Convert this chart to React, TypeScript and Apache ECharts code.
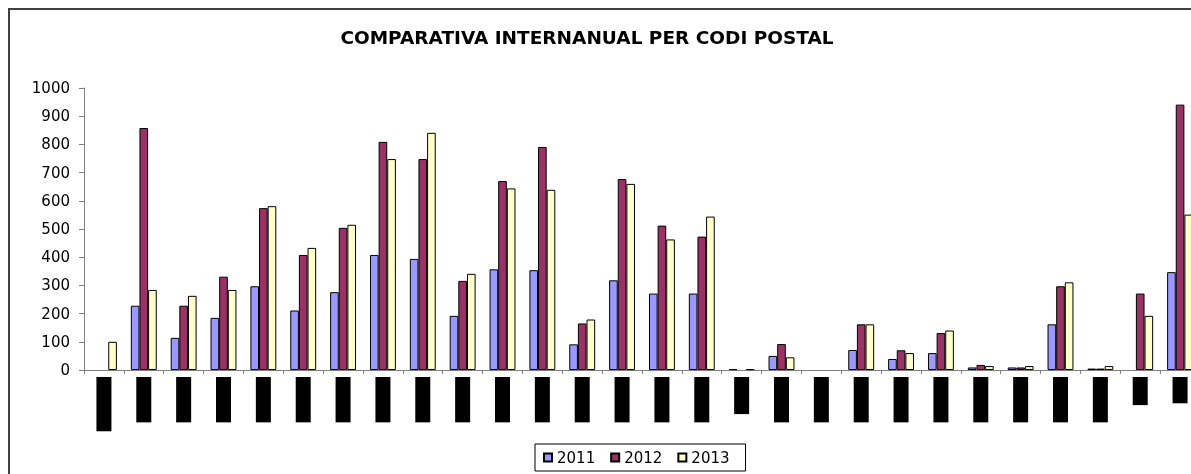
import React, { useEffect, useRef } from "react";
import * as echarts from "echarts";

const titleText = "COMPARATIVA INTERNANUAL PER CODI POSTAL";

const categories = [
  "08001B", "08002", "08003", "08004", "08005", "08006", "08007", "08008",
  "08009", "08010", "08011", "08012", "08013", "08014", "08015", "08016",
  "0817", "08018", "08019", "08020", "08021", "08022", "08023", "08024",
  "08025", "08026", "N/D", "ALT",
];

const years = ["2011", "2012", "2013"];

const values2011 = [
  0, 228, 114, 185, 297, 211, 276, 408, 394, 192, 357, 354, 91, 318, 271, 271,
  3, 50, 0, 71, 39, 60, 9, 9, 162, 5, 0, 347,
];
const values2012 = [
  0, 858, 228, 331, 574, 408, 504, 809, 748, 316, 670, 791, 165, 677, 512, 473,
  0, 92, 0, 162, 70, 131, 18, 9, 297, 5, 271, 941,
];
const values2013 = [
  100, 284, 263, 284, 581, 433, 515, 748, 841, 341, 644, 639, 179, 660, 463, 544,
  3, 45, 0, 162, 60, 140, 14, 14, 311, 14, 192, 551,
];

const colors = ["#9999FF", "#993366", "#FFFFCC"];
const FONT = "DejaVu Sans";

const INNER_W = 1298;
const INNER_H = 510;

export default function App() {
  const ref = useRef<HTMLDivElement>(null);

  useEffect(() => {
    const chart = echarts.init(ref.current as HTMLDivElement, null, { renderer: "svg" });
    const seriesData = [values2011, values2012, values2013];
    chart.setOption({
      animation: false,
      textStyle: { fontFamily: FONT },
      title: {
        text: titleText,
        left: 572,
        textAlign: "center",
        top: 13,
        textStyle: { fontSize: 18.5, fontWeight: "bold", color: "#000", fontFamily: FONT },
      },
      grid: {
        left: 74,
        width: 1116,
        top: 78,
        height: 282,
        containLabel: false,
        outerBoundsMode: "none",
      },
      legend: {
        data: years,
        left: 525,
        top: 434,
        itemWidth: 8,
        itemHeight: 8,
        itemGap: 15,
        icon: "rect",
        borderColor: "#000",
        borderWidth: 1,
        padding: [6, 16, 6, 8],
        textStyle: { fontSize: 15, color: "#000", fontFamily: FONT },
      },
      xAxis: {
        type: "category",
        data: categories,
        axisLine: { lineStyle: { color: "#808080", width: 1 } },
        axisTick: { show: true, alignWithLabel: false, length: 4, lineStyle: { color: "#808080" } },
        axisLabel: {
          interval: 0,
          rotate: 90,
          color: "#000",
          backgroundColor: "#000",
          fontSize: 13,
          fontFamily: FONT,
          padding: [0, 2],
          lineHeight: 15,
          margin: 7,
        },
        splitLine: { show: false },
      },
      yAxis: {
        type: "value",
        min: 0,
        max: 1000,
        interval: 100,
        axisLine: { show: true, lineStyle: { color: "#808080", width: 1 } },
        axisTick: { show: true, length: 5, lineStyle: { color: "#808080" } },
        axisLabel: {
          color: "#000",
          fontSize: 15,
          margin: 14,
          fontFamily: FONT,
          formatter: (v: number) => String(v),
        },
        splitLine: { show: false },
      },
      series: years.map((y, i) => ({
        name: y,
        type: "bar",
        data: seriesData[i].map((v) => (v === 0 ? null : v)),
        barGap: "0%",
        barCategoryGap: "35%",
        itemStyle: { color: colors[i], borderColor: "#000", borderWidth: 1 },
      })),
    });
    return () => chart.dispose();
  }, []);

  return (
    <div
      style={{
        position: "fixed",
        left: 8,
        top: 8,
        width: INNER_W + 2,
        height: INNER_H + 2,
        borderTop: "2px solid #404040",
        borderLeft: "2px solid #404040",
        boxSizing: "border-box",
        overflow: "hidden",
      }}
    >
      <div ref={ref} style={{ width: INNER_W, height: INNER_H }} />
    </div>
  );
}
